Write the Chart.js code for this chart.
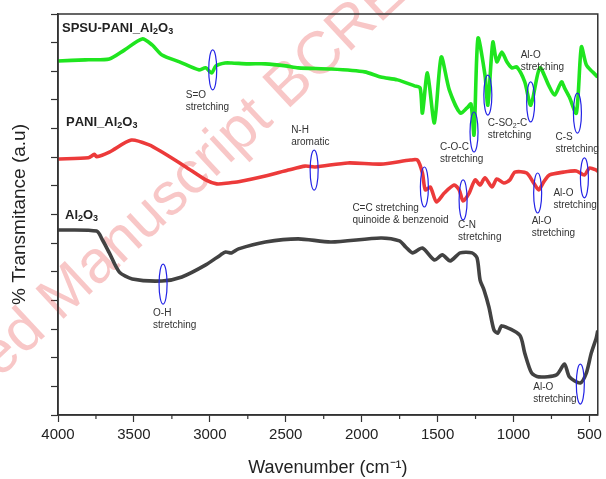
<!DOCTYPE html>
<html>
<head>
<meta charset="utf-8">
<script src="https://cdn.jsdelivr.net/npm/chart.js@4"></script>
<style>
  html, body { margin: 0; padding: 0; background: #fff; }
  #wrap { width: 606px; height: 479px; }
</style>
</head>
<body>
<div id="wrap"><canvas id="ftirChart" width="606" height="479"></canvas></div>
<script>
// FTIR spectra (wavenumber in cm-1, transmittance offset in a.u.)
const SERIES_NAMES = ['SPSU-PANI_Al2O3', 'PANI_Al2O3', 'Al2O3'];

const SPSU_WN = [4000, 3820, 3662, 3563, 3446, 3380, 3315, 3200, 3073, 3027, 2988, 2960, 2900, 2857, 2750, 2634, 2500, 2418, 2200, 1980, 1875, 1764, 1652, 1615, 1600, 1567, 1521, 1476, 1423, 1351, 1306, 1280, 1260, 1234, 1188, 1169, 1136, 1110, 1077, 1044, 1011, 978, 926, 886, 827, 769, 729, 684, 664, 632, 586, 553, 520, 480, 445];
const SPSU_T = [12.36, 12.40, 12.43, 12.74, 13.13, 12.92, 12.57, 12.33, 12.05, 12.12, 11.94, 12.19, 12.29, 12.29, 12.26, 12.26, 12.19, 12.12, 12.08, 11.98, 11.80, 11.70, 11.49, 11.42, 10.54, 11.94, 10.20, 12.50, 11.35, 10.54, 10.72, 10.86, 9.78, 13.16, 11.87, 10.82, 13.02, 12.33, 12.67, 12.33, 12.12, 12.15, 11.63, 10.82, 12.12, 11.52, 11.17, 11.63, 11.42, 11.10, 10.54, 12.85, 12.22, 11.98, 11.80];

const PANI_WN = [4000, 3800, 3760, 3746, 3662, 3517, 3400, 3315, 3158, 3027, 2955, 2876, 2811, 2634, 2484, 2373, 2307, 2091, 1875, 1679, 1633, 1600, 1581, 1548, 1508, 1456, 1391, 1358, 1332, 1292, 1253, 1220, 1188, 1142, 1110, 1064, 1024, 991, 913, 867, 834, 801, 762, 671, 586, 533, 500, 455, 445];
const PANI_T = [8.94, 8.98, 9.10, 9.02, 9.18, 9.60, 9.43, 9.18, 8.66, 8.21, 8.07, 8.10, 8.14, 8.34, 8.55, 8.69, 8.66, 8.80, 8.76, 8.90, 8.90, 8.45, 7.86, 7.96, 7.44, 7.75, 8.03, 7.86, 7.47, 7.75, 8.21, 8.03, 8.28, 7.96, 8.24, 8.10, 8.21, 8.48, 8.45, 8.10, 7.86, 8.14, 8.38, 8.48, 8.52, 8.38, 8.62, 8.55, 8.50];

const AL2O3_WN = [4000, 3746, 3707, 3662, 3596, 3511, 3315, 3184, 3027, 2929, 2896, 2857, 2811, 2634, 2418, 2202, 1875, 1751, 1711, 1665, 1600, 1521, 1469, 1417, 1351, 1273, 1240, 1220, 1194, 1162, 1129, 1103, 1077, 959, 926, 881, 834, 717, 664, 632, 560, 520, 488, 455, 445];
const AL2O3_T = [6.46, 6.42, 6.11, 5.66, 4.99, 4.75, 4.68, 4.82, 5.24, 5.59, 5.69, 5.66, 5.80, 6.04, 6.15, 6.04, 6.18, 6.08, 5.87, 5.66, 5.83, 5.41, 5.59, 5.38, 5.66, 5.66, 5.48, 4.71, 4.36, 3.77, 2.97, 2.86, 3.11, 2.79, 2.16, 1.47, 1.33, 1.40, 1.78, 1.33, 1.12, 1.47, 2.16, 2.69, 2.95];

const X_TICKS = [4000, 3500, 3000, 2500, 2000, 1500, 1000, 500];
const X_MINOR = [3750, 3250, 2750, 2250, 1750, 1250, 750];

// band assignments: ellipse centre (wavenumber, level), label lines
const BANDS = [
  { wn: 2981, t: 12.05, lines: ['S=O', 'stretching'] },
  { wn: 1260, t: 9.88, lines: ['C-O-C', 'stretching'] },
  { wn: 1169, t: 11.17, lines: ['C-SO2-C', 'stretching'] },
  { wn: 887, t: 10.93, lines: ['Al-O', 'stretching'] },
  { wn: 579, t: 10.54, lines: ['C-S', 'stretching'] },
  { wn: 2313, t: 8.55, lines: ['N-H', 'aromatic'] },
  { wn: 1587, t: 7.96, lines: ['C=C stretching', 'quinoide & benzenoid'] },
  { wn: 1332, t: 7.51, lines: ['C-N', 'stretching'] },
  { wn: 841, t: 7.75, lines: ['Al-O', 'stretching'] },
  { wn: 533, t: 8.28, lines: ['Al-O', 'stretching'] },
  { wn: 3308, t: 4.57, lines: ['O-H', 'stretching'] },
  { wn: 560, t: 1.08, lines: ['Al-O', 'stretching'] }
];
// label offsets in px from the ellipse centre (left edge, first line)
const BAND_LABEL_OFFSET = [[-27, 25], [-34, 15], [0, 28], [-10, -47], [-22, 24], [-23, -40],
  [-72, 21], [-5, 25], [-6, 28], [-31, 15], [-10, 29], [-47, 3]];
// series name positions (px)
const NAME_POS = [[62, 28], [66, 122], [65, 215]];

function pts(wn, t) {
  return wn.map((w, i) => ({ x: w, y: t[i] }));
}

// draw a string with every digit as a subscript
function drawSub(ctx, str, x, y, size, weight) {
  let cx = x;
  for (const ch of str) {
    const isSub = /[0-9]/.test(ch);
    ctx.font = weight + ' ' + (isSub ? Math.round(size * 0.68) : size) + 'px "Liberation Sans", Arial, sans-serif';
    ctx.fillText(ch, cx, isSub ? y + size * 0.28 : y);
    cx += ctx.measureText(ch).width;
  }
}

const decor = {
  id: 'decor',
  beforeDatasetsDraw(chart) {
    // journal watermark sits under the curves
    const { ctx } = chart;
    ctx.save();
    ctx.translate(60, 322);
    ctx.rotate(-43 * Math.PI / 180);
    ctx.font = '60px "Liberation Sans", Arial, sans-serif';
    ctx.fillStyle = 'rgba(232, 70, 70, 0.30)';
    ctx.textBaseline = 'alphabetic';
    const pre = ctx.measureText('Accepted ').width;
    ctx.fillText('Accepted Manuscript BCREC', -pre, 0);
    ctx.restore();
  },
  afterDraw(chart) {
    const { ctx, chartArea: a, scales: { x, y } } = chart;
    ctx.save();
    // frame
    ctx.strokeStyle = '#333';
    ctx.lineWidth = 1.5;
    ctx.strokeRect(a.left, a.top, a.right - a.left, a.bottom - a.top);
    // minor x ticks
    ctx.lineWidth = 1.2;
    X_MINOR.forEach(v => {
      const px = x.getPixelForValue(v);
      ctx.beginPath();
      ctx.moveTo(px, a.bottom);
      ctx.lineTo(px, a.bottom + 4);
      ctx.stroke();
    });
    // band markers
    ctx.textBaseline = 'middle';
    ctx.textAlign = 'left';
    BANDS.forEach((b, i) => {
      const px = x.getPixelForValue(b.wn);
      const py = y.getPixelForValue(b.t);
      ctx.strokeStyle = '#2323e6';
      ctx.lineWidth = 1.2;
      ctx.beginPath();
      ctx.ellipse(px, py, 4, 20, 0, 0, Math.PI * 2);
      ctx.stroke();
      ctx.fillStyle = '#333';
      const [dx, dy] = BAND_LABEL_OFFSET[i];
      b.lines.forEach((ln, k) => drawSub(ctx, ln, px + dx, py + dy + k * 12, 10, 'normal'));
    });
    // series names
    ctx.fillStyle = '#222';
    SERIES_NAMES.forEach((n, i) => drawSub(ctx, n, NAME_POS[i][0], NAME_POS[i][1], 13, 'bold'));
    ctx.restore();
  }
};

new Chart(document.getElementById('ftirChart'), {
  type: 'line',
  data: {
    datasets: [
      { label: SERIES_NAMES[0], data: pts(SPSU_WN, SPSU_T), borderColor: '#1fe51f' },
      { label: SERIES_NAMES[1], data: pts(PANI_WN, PANI_T), borderColor: '#ec3a3a' },
      { label: SERIES_NAMES[2], data: pts(AL2O3_WN, AL2O3_T), borderColor: '#424242' }
    ]
  },
  options: {
    responsive: false,
    animation: false,
    layout: { padding: { top: 14, right: 4, left: 0, bottom: 0 } },
    elements: {
      point: { radius: 0 },
      line: { borderWidth: 3.6, tension: 0.25, fill: false }
    },
    plugins: {
      legend: { display: false },
      tooltip: { enabled: false }
    },
    scales: {
      x: {
        type: 'linear',
        reverse: true,
        min: 445,
        max: 4000,
        afterBuildTicks: s => { s.ticks = X_TICKS.map(v => ({ value: v })); },
        afterFit: s => { s.height = 64; },
        grid: { drawOnChartArea: false, tickLength: 7, tickColor: '#333', tickWidth: 1.2 },
        border: { display: true, color: '#333', width: 1.5 },
        ticks: { color: '#222', padding: 4, maxRotation: 0, autoSkip: false,
          callback: v => String(v),
          font: { size: 15, family: '"Liberation Sans", Arial, sans-serif' } },
        title: { display: true, text: 'Wavenumber (cm\u207B\u00B9)', color: '#222',
          padding: { top: 0, bottom: 0 },
          font: { size: 18, family: '"Liberation Sans", Arial, sans-serif' } }
      },
      y: {
        min: 0,
        max: 14,
        afterBuildTicks: s => { s.ticks = Array.from({ length: 15 }, (_, i) => ({ value: i })); },
        afterFit: s => { s.width = 58; },
        grid: { drawOnChartArea: false, tickLength: 7, tickColor: '#333', tickWidth: 1.2 },
        border: { display: true, color: '#333', width: 1.5 },
        ticks: { callback: () => '' },
        title: { display: true, text: '% Transmitance (a.u)', color: '#222',
          padding: { top: 8, bottom: 0 },
          font: { size: 19, family: '"Liberation Sans", Arial, sans-serif' } }
      }
    }
  },
  plugins: [decor]
});
</script>
</body>
</html>
